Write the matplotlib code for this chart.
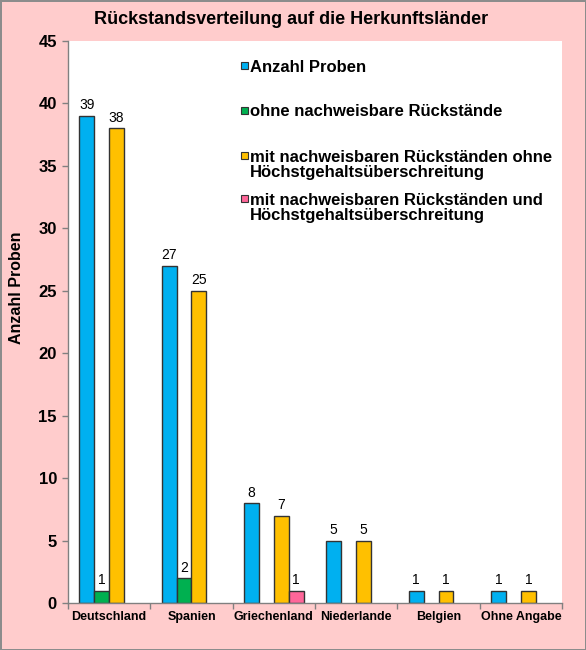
import numpy as np
import matplotlib
matplotlib.use('Agg')
import matplotlib.pyplot as plt
from matplotlib.patches import Rectangle

plt.rcParams['font.family'] = ['Liberation Sans', 'DejaVu Sans']

# data (None = no bar)
countries = ['Deutschland', 'Spanien', 'Griechenland', 'Niederlande', 'Belgien', 'Ohne Angabe']
anzahl = [39, 27, 8, 5, 1, 1]
ohne_rueck = [1, 2, None, None, None, None]
mit_ohne_hg = [38, 25, 7, 5, 1, 1]
mit_und_hg = [None, None, 1, None, None, None]

series_labels = ['Anzahl Proben',
                 'ohne nachweisbare Rückstände',
                 'mit nachweisbaren Rückständen ohne\nHöchstgehaltsüberschreitung',
                 'mit nachweisbaren Rückständen und\nHöchstgehaltsüberschreitung']
series = [anzahl, ohne_rueck, mit_ohne_hg, mit_und_hg]
colors = ['#00B0F0', '#00B050', '#FFC000', '#FF6699']

W, H = 586, 650
fig = plt.figure(figsize=(W / 100, H / 100), dpi=100)
fig.patch.set_facecolor('#FFCCCC')
fig.patch.set_edgecolor('#8C8C8C')
fig.patch.set_linewidth(2)

ax = fig.add_axes([68 / W, 1 - 603 / H, (562 - 68) / W, (603 - 41) / H])
ax.set_facecolor('white')

x = np.arange(len(countries))
bw = 1 / 5.5
for i, (vals, col) in enumerate(zip(series, colors)):
    off = (i - 1.5) * bw
    for xi, v in zip(x, vals):
        if v is None:
            continue
        ax.bar(xi + off, v, width=bw, color=col, edgecolor='#333333', linewidth=1)
        ax.annotate(str(v), (xi + off, v), xytext=(0, 2.5), textcoords='offset points',
                    ha='center', va='bottom', fontsize=10)

ax.set_xlim(-0.5, len(countries) - 0.5)
ax.set_ylim(0, 45)
ax.set_yticks(np.arange(0, 46, 5))
ax.tick_params(axis='y', labelsize=12, length=4, color='#808080', width=1, pad=4)
for t in ax.get_yticklabels():
    t.set_fontweight('bold')

ax.set_xticks(np.arange(len(countries) + 1) - 0.5)
ax.set_xticklabels([])
ax.set_xticks(x, minor=True)
ax.set_xticklabels(countries, minor=True, fontsize=9, fontweight='bold')
ax.tick_params(axis='x', which='major', length=4, color='#808080', width=1)
ax.tick_params(axis='x', which='minor', length=0, pad=6)

for s in ['top', 'right']:
    ax.spines[s].set_visible(False)
for s in ['left', 'bottom']:
    ax.spines[s].set_color('#808080')
    ax.spines[s].set_linewidth(1)

fig.text(291 / W, 1 - 20 / H, 'Rückstandsverteilung auf die Herkunftsländer',
         ha='center', va='center', fontsize=13, fontweight='bold')
fig.text(17 / W, 1 - 288 / H, 'Anzahl Proben', rotation=90,
         ha='center', va='center', fontsize=11.5, fontweight='bold')

# legend
leg_y = [65, 110, 155, 198]
for lab, col, yy in zip(series_labels, colors, leg_y):
    fig.patches.append(Rectangle((241 / W, 1 - (yy + 3.5) / H), 7 / W, 7 / H,
                                 transform=fig.transFigure, facecolor=col,
                                 edgecolor='#333333', linewidth=0.8))
    fig.text(250 / W, 1 - (yy - 5.5) / H, lab, ha='left', va='top',
             fontsize=12, fontweight='bold', linespacing=1.05)

fig.savefig('out.png', dpi=100, facecolor=fig.get_facecolor(), edgecolor=fig.get_edgecolor())
